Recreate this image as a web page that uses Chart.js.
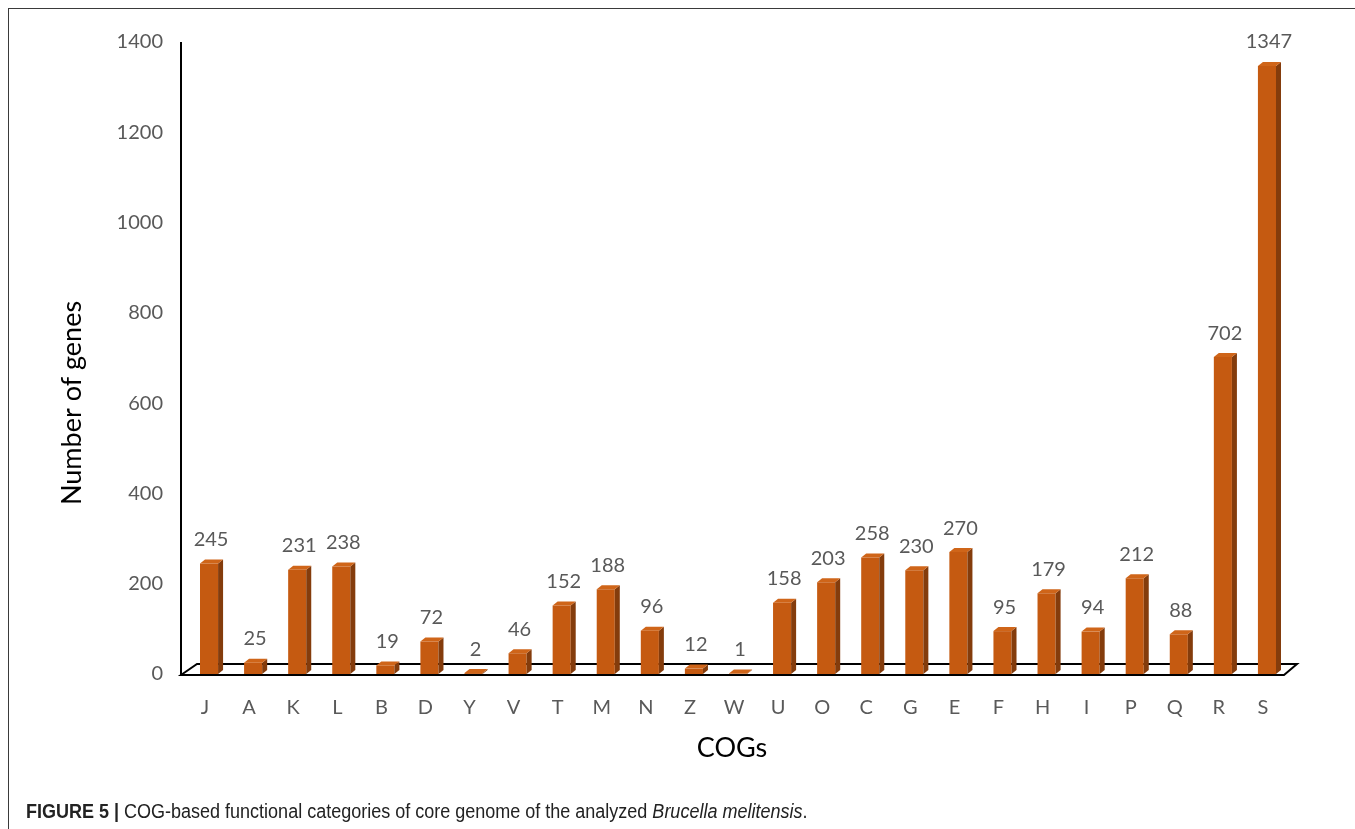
<!DOCTYPE html>
<html>
<head>
<meta charset="utf-8">
<script src="https://cdn.jsdelivr.net/npm/chart.js@4"></script>
<style>
  html, body { margin: 0; padding: 0; background: #fff; }
  #wrap { position: relative; width: 1355px; height: 829px; overflow: hidden; }
  #frame { position: absolute; left: 8px; top: 8px; right: -4px; bottom: -4px;
           border-left: 1.5px solid #3a3a3a; border-top: 1.5px solid #3a3a3a; }
  canvas { position: absolute; left: 0; top: 0; }
  #caption { position: absolute; left: 26px; top: 801px; font-family: "Liberation Sans", Arial, sans-serif;
             font-size: 20px; line-height: 20px; color: #222; white-space: nowrap;
             transform: scaleX(0.9); transform-origin: left top; }
  #caption b { font-weight: bold; }
</style>
</head>
<body>
<div id="wrap">
  <div id="frame"></div>
  <canvas id="c" width="1355" height="829"></canvas>
  <div id="caption"><b>FIGURE 5 |</b> COG-based functional categories of core genome of the analyzed <i>Brucella melitensis</i>.</div>
</div>
<script>
// COG functional categories and gene counts
const categories = ['J','A','K','L','B','D','Y','V','T','M','N','Z','W','U','O','C','G','E','F','H','I','P','Q','R','S'];
const geneCounts = [245, 25, 231, 238, 19, 72, 2, 46, 152, 188, 96, 12, 1, 158, 203, 258, 230, 270, 95, 179, 94, 212, 88, 702, 1347];
const yTicks = [0, 200, 400, 600, 800, 1000, 1200, 1400];

const FRONT = '#C55A11';
const SIDE = '#843C0C';
const TOP = '#CF6519';
const FONT = 'Lato, "Open Sans", sans-serif';

// Extrudes each bar (side + top faces), draws the floor and the value labels
const depth = { dx: 5, dy: 4, shift: 4 };
const bar3d = {
  id: 'bar3d',
  afterDatasetsUpdate(chart) {
    // the extruded boxes sit a little right of the category centre
    chart.getDatasetMeta(0).data.forEach(b => { b.x += depth.shift; });
  },
  beforeDatasetsDraw(chart) {
    const { ctx, chartArea } = chart;
    const ys = chart.scales.y;
    const front = ys.getPixelForValue(0) + 1;
    const back = front - 11;
    const left = chartArea.left - 2, right = chartArea.right - 1;
    ctx.save();
    ctx.lineWidth = 2;
    ctx.strokeStyle = '#000';
    ctx.fillStyle = '#fff';
    ctx.beginPath();
    ctx.moveTo(left, front);
    ctx.lineTo(left + 16, back);
    ctx.lineTo(right + 13, back);
    ctx.lineTo(right, front);
    ctx.closePath();
    ctx.fill();
    ctx.stroke();
    // vertical axis line
    ctx.beginPath();
    ctx.moveTo(left, chartArea.top);
    ctx.lineTo(left, front);
    ctx.stroke();
    ctx.restore();
  },
  afterDatasetsDraw(chart) {
    const { ctx } = chart;
    const meta = chart.getDatasetMeta(0);
    const data = chart.data.datasets[0].data;
    ctx.save();
    meta.data.forEach((bar, i) => {
      const { x, y, base, width } = bar.getProps(['x', 'y', 'base', 'width'], true);
      const l = x - width / 2, r = x + width / 2;
      ctx.fillStyle = SIDE;
      ctx.beginPath();
      ctx.moveTo(r, y);
      ctx.lineTo(r + depth.dx, y - depth.dy);
      ctx.lineTo(r + depth.dx, base - depth.dy);
      ctx.lineTo(r, base);
      ctx.closePath();
      ctx.fill();
      ctx.fillStyle = TOP;
      ctx.beginPath();
      ctx.moveTo(l, y);
      ctx.lineTo(l + depth.dx, y - depth.dy);
      ctx.lineTo(r + depth.dx, y - depth.dy);
      ctx.lineTo(r, y);
      ctx.closePath();
      ctx.fill();
      ctx.fillStyle = '#595959';
      ctx.font = '20px ' + FONT;
      ctx.textAlign = 'center';
      ctx.textBaseline = 'middle';
      ctx.fillText(String(data[i]), x + 2, y - depth.dy - 20);
    });
    ctx.restore();
  },
  afterDraw(chart) {
    const { ctx } = chart;
    ctx.save();
    ctx.fillStyle = '#000';
    ctx.font = '27px ' + FONT;
    ctx.textAlign = 'center';
    ctx.textBaseline = 'middle';
    ctx.fillText('COGs', 732, 748);
    ctx.translate(72, 403);
    ctx.rotate(-Math.PI / 2);
    ctx.fillText('Number of genes', 0, 0);
    ctx.restore();
  }
};

new Chart(document.getElementById('c'), {
  type: 'bar',
  data: {
    labels: categories,
    datasets: [{
      data: geneCounts,
      backgroundColor: FRONT,
      borderWidth: 0,
      barPercentage: 0.82,
      categoryPercentage: 0.5
    }]
  },
  options: {
    responsive: false,
    animation: false,
    devicePixelRatio: 1,
    layout: { padding: { top: 42, right: 70, bottom: 95, left: 0 } },
    plugins: { legend: { display: false }, tooltip: { enabled: false } },
    scales: {
      x: {
        grid: { display: false, drawTicks: false },
        border: { display: false },
        ticks: { color: '#595959', font: { family: FONT, size: 20 }, padding: 22, maxRotation: 0 },
        afterFit(s) { s.height = 60; }
      },
      y: {
        min: 0, max: 1400,
        afterBuildTicks(s) { s.ticks = yTicks.map(v => ({ value: v })); },
        grid: { display: false, drawTicks: false },
        border: { display: false },
        ticks: { color: '#595959', font: { family: FONT, size: 20 }, padding: 20, callback: v => String(v) },
        afterFit(s) { s.width = 183; }
      }
    }
  },
  plugins: [bar3d]
});
</script>
</body>
</html>
